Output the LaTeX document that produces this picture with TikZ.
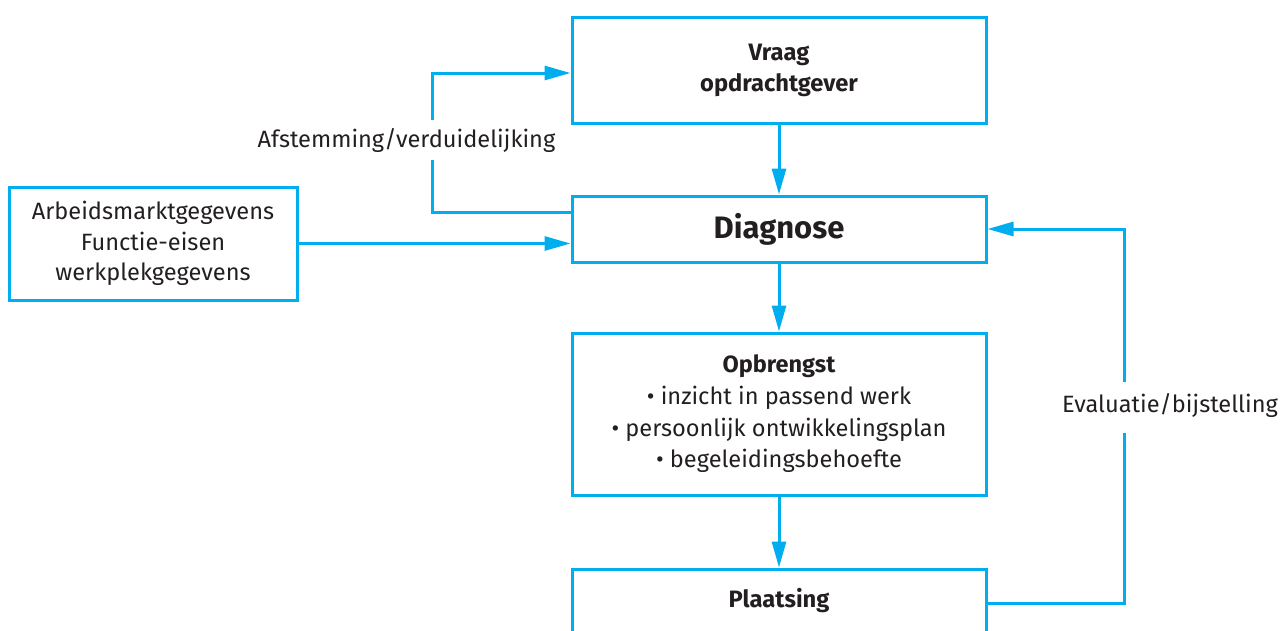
\documentclass[tikz,border=0pt]{standalone}
\usepackage{fontspec}
\setmainfont{Fira Sans}
\usetikzlibrary{arrows.meta,positioning,calc}
\definecolor{cyanline}{HTML}{00AEEF}
\definecolor{ink}{HTML}{231F20}
\tikzset{
  box/.style={draw=cyanline,line width=3pt,align=center,text=ink,inner sep=0pt},
  conn/.style={draw=cyanline,line width=3pt},
  arr/.style={conn,-{Triangle[length=26pt,width=14pt]}},
  lbl/.style={text=ink,font=\fontsize{23.6}{30}\selectfont,inner sep=0pt},
}
\begin{document}
\begin{tikzpicture}[x=1pt,y=-1pt]
\useasboundingbox (0,0) rectangle (1288,630);
\clip (0,0) rectangle (1288,630);
\node[box,minimum width=414pt,minimum height=106pt,font=\bfseries\fontsize{23.7}{31}\selectfont] (vraag) at (779,70) {Vraag\\opdrachtgever};
\node[box,minimum width=414pt,minimum height=66pt,font=\bfseries\fontsize{31}{32}\selectfont] (diag) at (779,229) {Diagnose};
\node[box,minimum width=414pt,minimum height=162pt,font=\fontsize{23.6}{31.7}\selectfont] (opb) at (779,414) {{\bfseries\fontsize{23.5}{31.7}\selectfont Opbrengst}\\\textbullet\ inzicht in passend werk\\\textbullet\ persoonlijk ontwikkelingsplan\\\textbullet\ begeleidingsbehoefte};
\node[box,minimum width=414pt,minimum height=64pt,font=\bfseries\fontsize{23.7}{31}\selectfont] (plaats) at (779,601) {Plaatsing};
\node[box,minimum width=288pt,minimum height=113pt,font=\fontsize{23.6}{30.5}\selectfont] (arb) at (153,243.5) {Arbeidsmarktgegevens\\Functie-eisen\\werkplekgegevens};
\node[lbl] (afst) at (406.5,140) {Afstemming/verduidelijking};
\node[lbl] (eval) at (1170,405) {Evaluatie/bijstelling};
\coordinate (la) at (432,160);
\coordinate (lb) at (432,120);
\coordinate (ra) at (1124,433);
\coordinate (rb) at (1124,382);
\draw[arr] (vraag) -- (diag);
\draw[arr] (diag) -- (opb);
\draw[arr] (opb) -- (plaats);
\draw[arr] (arb) -- (arb -| diag.west);
\draw[conn] ([yshift=17pt]diag.west) -| (la);
\draw[arr] (lb) |- ([yshift=-3pt]vraag.west);
\draw[conn] ([yshift=-2pt]plaats.east) -| (ra);
\draw[arr] (rb) |- (diag.east);
\end{tikzpicture}
\end{document}
